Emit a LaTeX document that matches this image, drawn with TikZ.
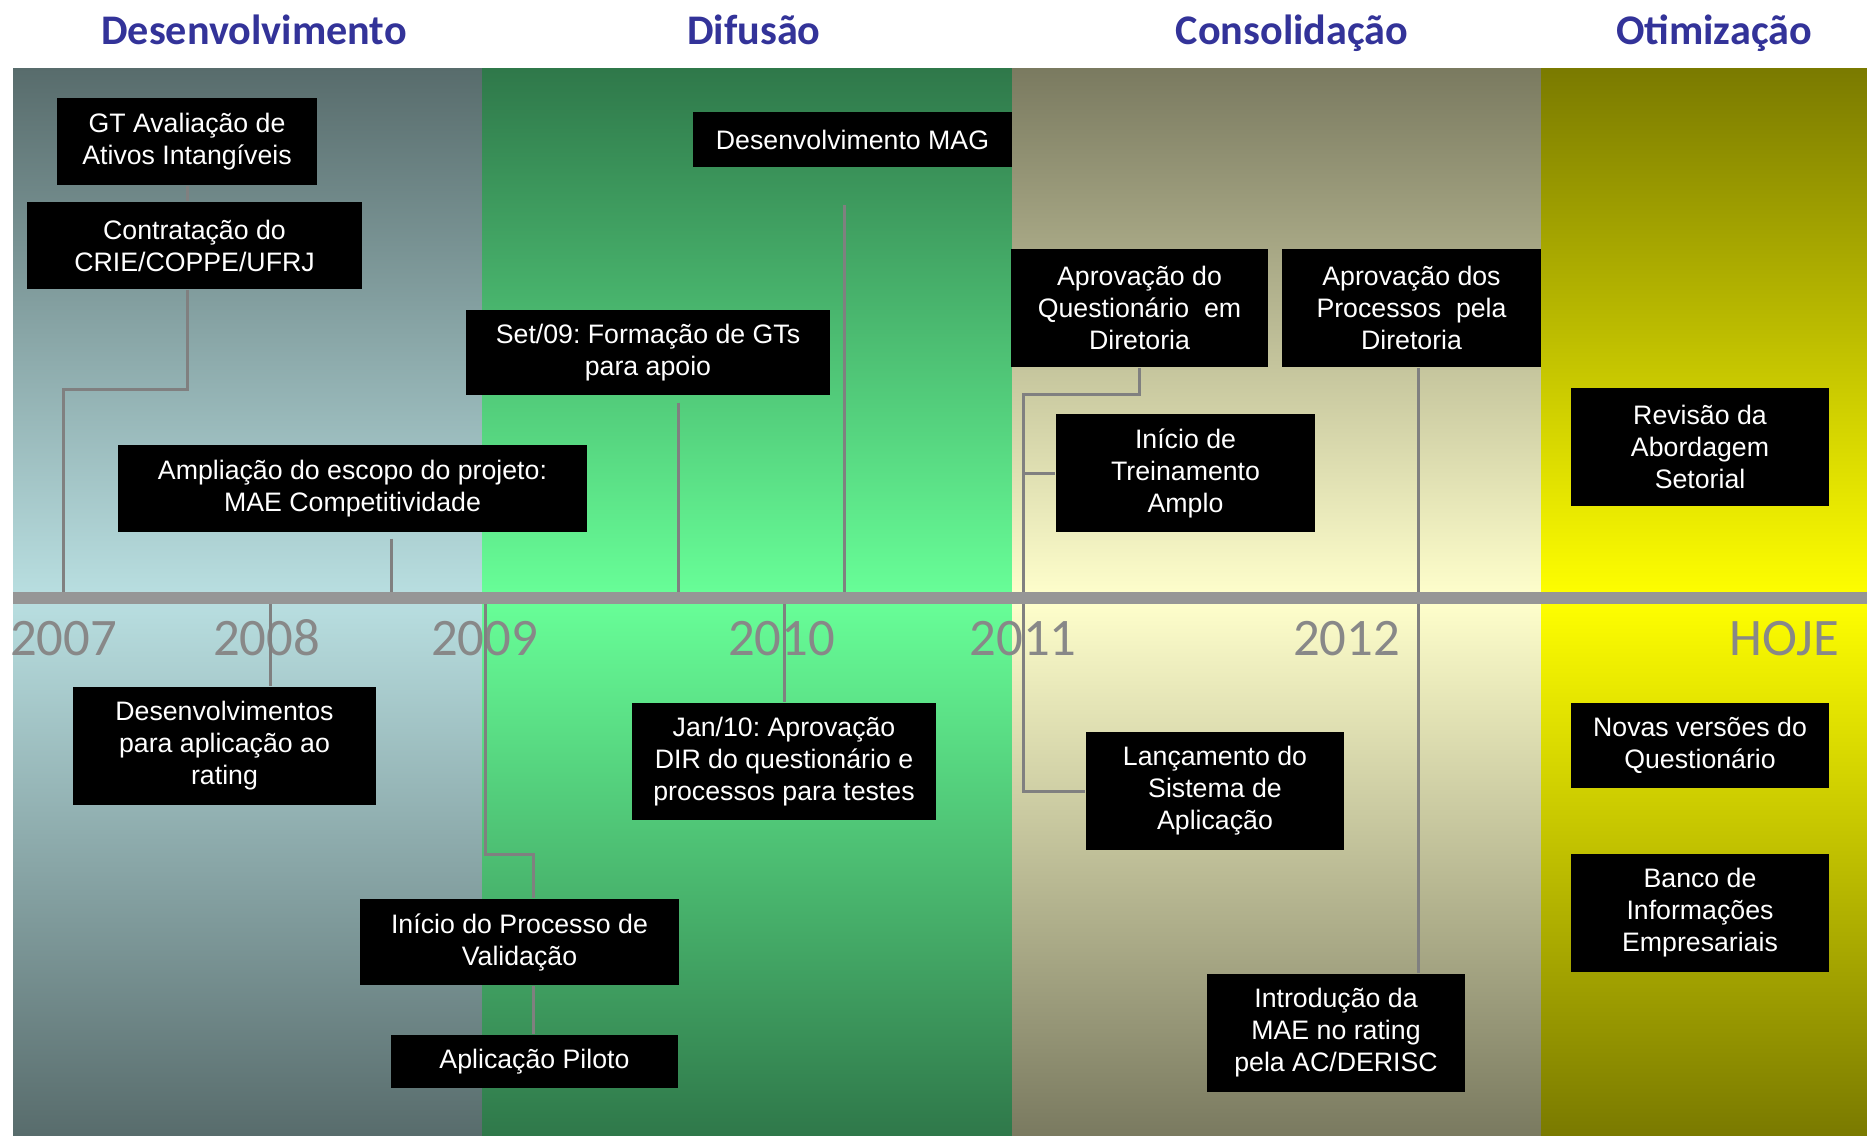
\documentclass[tikz,border=0pt]{standalone}
\usepackage{fontspec}
\setmainfont{Liberation Sans}
\newfontfamily\anofont{Carlito}
\usetikzlibrary{calc}
\frenchspacing

\definecolor{titulo}{RGB}{51,51,153}
\definecolor{anocor}{RGB}{136,136,136}
\definecolor{linha}{RGB}{128,128,128}
\definecolor{eixocor}{RGB}{150,150,150}
\definecolor{desTop}{RGB}{88,108,108}
\definecolor{desMid}{RGB}{185,223,225}
\definecolor{difTop}{RGB}{47,120,74}
\definecolor{difMid}{RGB}{104,255,152}
\definecolor{conTop}{RGB}{122,122,96}
\definecolor{conMid}{RGB}{255,255,204}
\definecolor{otiTop}{RGB}{122,122,0}
\definecolor{otiMid}{RGB}{255,255,0}

\begin{document}
\begin{tikzpicture}[x=0.1mm,y=-0.1mm,
  evento/.style={fill=black, text=white, align=center, inner sep=0pt,
    font=\fontsize{7.6}{9.1}\selectfont},
  liga/.style={draw=linha, line width=0.3mm},
  eixo/.style={draw=eixocor, line width=1.2mm},
  ano/.style={anchor=base, text=anocor, inner sep=0pt,
    font=\anofont\fontsize{15}{15}\selectfont},
  fase/.style={anchor=base, text=titulo, inner sep=0pt,
    font=\anofont\bfseries\fontsize{12}{12}\selectfont}]

  \useasboundingbox[fill=white] (0,0) rectangle (1867,1135);

  % faixas das fases
  \begin{scope}[y=0.1mm]
    \shade[top color=desTop, bottom color=desMid] (13,-68) rectangle (482,-598);
    \shade[top color=desMid, bottom color=desTop] (13,-598) rectangle (482,-1135);
    \shade[top color=difTop, bottom color=difMid] (482,-68) rectangle (1012,-598);
    \shade[top color=difMid, bottom color=difTop] (482,-598) rectangle (1012,-1135);
    \shade[top color=conTop, bottom color=conMid] (1012,-68) rectangle (1541,-598);
    \shade[top color=conMid, bottom color=conTop] (1012,-598) rectangle (1541,-1135);
    \shade[top color=otiTop, bottom color=otiMid] (1541,-68) rectangle (1867,-598);
    \shade[top color=otiMid, bottom color=otiTop] (1541,-598) rectangle (1867,-1135);
  \end{scope}

  \node[fase] (FDes) at (254,44) {Desenvolvimento};
  \node[fase] (FDif) at (754,44) {Difusão};
  \node[fase] (FCon) at (1292,44) {Consolidação};
  \node[fase] (FOti) at (1714,44) {Otimização};

  \node[ano] (A2007) at (63.5,655) {2007};
  \node[ano] (A2008) at (266.5,655) {2008};
  \node[ano] (A2009) at (484.5,655) {2009};
  \node[ano] (A2010) at (781.5,655) {2010};
  \node[ano] (A2011) at (1023,655) {2011};
  \node[ano] (A2012) at (1346.5,655) {2012};
  \node[ano] (Hoje) at (1784,655) {HOJE};

  % eventos acima do eixo
  \node[evento, minimum width=26mm, minimum height=8.7mm] (GT) at (187,141.5)
    {GT Avaliação de\\Ativos Intangíveis};
  \node[evento, minimum width=33.5mm, minimum height=8.7mm] (Crie) at (194.5,245.5)
    {Contratação do\\CRIE/COPPE/UFRJ};
  \node[evento, minimum width=46.9mm, minimum height=8.7mm] (Ampl) at (352.5,488.5)
    {Ampliação do escopo do projeto:\\MAE Competitividade};
  \node[evento, minimum width=36.4mm, minimum height=8.5mm] (SetGT) at (648,352.5)
    {Set/09: Formação de GTs\\para apoio};
  \node[evento, minimum width=31.9mm, minimum height=5.5mm] (MAG) at (852.5,139.5)
    {Desenvolvimento MAG};
  \node[evento, minimum width=25.7mm, minimum height=11.8mm] (AprQ) at (1139.5,308)
    {Aprovação do\\Questionário\ \ em\\Diretoria};
  \node[evento, minimum width=25.9mm, minimum height=11.8mm] (AprP) at (1411.5,308)
    {Aprovação dos\\Processos\ \ pela\\Diretoria};
  \node[evento, minimum width=25.9mm, minimum height=11.8mm] (Trein) at (1185.5,473)
    {Início de\\Treinamento\\Amplo};
  \node[evento, minimum width=25.8mm, minimum height=11.8mm] (Revis) at (1700,447)
    {Revisão da\\Abordagem\\Setorial};

  % eventos abaixo do eixo
  \node[evento, minimum width=30.3mm, minimum height=11.8mm] (Desap) at (224.5,746)
    {Desenvolvimentos\\para aplicação ao\\rating};
  \node[evento, minimum width=30.4mm, minimum height=11.7mm] (Jan) at (784,761.5)
    {Jan/10: Aprovação\\DIR do questionário e\\processos para testes};
  \node[evento, minimum width=31.9mm, minimum height=8.6mm] (Valid) at (519.5,942)
    {Início do Processo de\\Validação};
  \node[evento, minimum width=28.7mm, minimum height=5.3mm] (Piloto) at (534.5,1061.5)
    {Aplicação Piloto};
  \node[evento, minimum width=25.8mm, minimum height=11.8mm] (Lanc) at (1215,791)
    {Lançamento do\\Sistema de\\Aplicação};
  \node[evento, minimum width=25.8mm, minimum height=11.8mm] (Intro) at (1336,1033)
    {Introdução da\\MAE no rating\\pela AC/DERISC};
  \node[evento, minimum width=25.8mm, minimum height=8.5mm] (Novas) at (1700,745.5)
    {Novas versões do\\Questionário};
  \node[evento, minimum width=25.8mm, minimum height=11.8mm] (Banco) at (1700,913)
    {Banco de\\Informações\\Empresariais};

  \coordinate (EixoIni) at (13,598);
  \coordinate (EixoFim) at (1867,598);
  \coordinate (T2007) at (63,598);
  \coordinate (T2008) at (270,598);
  \coordinate (T2009) at (485,598);
  \coordinate (T2010) at (784,598);
  \coordinate (TAmpl) at (391,598);
  \coordinate (TSet) at (678,598);
  \coordinate (TMAG) at (844,598);
  \coordinate (TAprP) at (1418,598);
  \coordinate (Dobra1) at (63,389);
  \coordinate (Dobra2) at (1023,394);
  \coordinate (Dobra3) at (533,854);

  \draw[liga] (GT.south) -- (GT.south |- Crie.north);
  \draw[liga] (GT.south |- Crie.south) |- (Dobra1) -- (T2007);
  \draw[liga] ($(Ampl.south -| TAmpl)+(0,6)$) -- (TAmpl);
  \draw[liga] ($(SetGT.south -| TSet)+(0,7)$) -- (TSet);
  \draw[liga] ($(MAG.south -| TMAG)+(0,37)$) -- (TMAG);
  \draw[liga] (AprQ.south) |- (Dobra2) |- (Lanc.west);
  \draw[liga] (Trein.west -| Dobra2) -- (Trein.west);
  \draw[liga] (AprP.south -| TAprP) -- (Intro.north -| TAprP);
  \draw[liga] (T2008) -- (Desap.north -| T2008);
  \draw[liga] (T2009) |- (Dobra3) -- (Valid.north -| Dobra3);
  \draw[liga] (Valid.south -| Dobra3) -- (Piloto.north -| Dobra3);
  \draw[liga] (T2010) -- (Jan.north);

  \draw[eixo] (EixoIni) -- (EixoFim);
\end{tikzpicture}
\end{document}
